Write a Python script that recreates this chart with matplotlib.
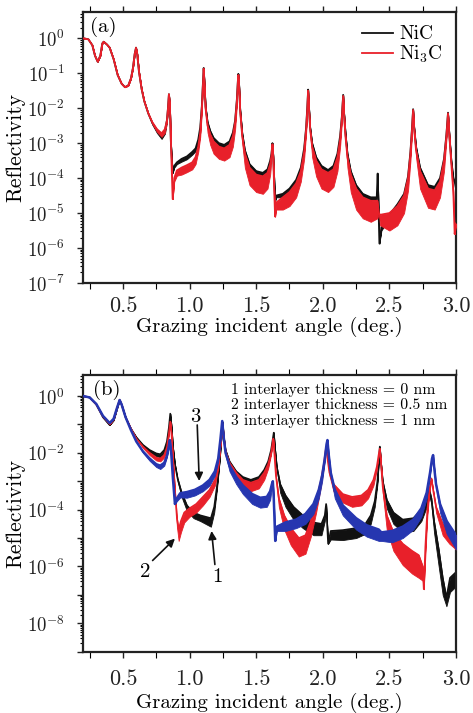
import numpy as np
import matplotlib
matplotlib.use("Agg")
import matplotlib.pyplot as plt
from matplotlib.ticker import LogLocator, MultipleLocator, FuncFormatter, NullFormatter

plt.rcParams['font.family'] = ['serif']
plt.rcParams['font.serif'] = ['cmr10', 'DejaVu Serif']
plt.rcParams['mathtext.fontset'] = 'cm'
plt.rcParams['axes.unicode_minus'] = False
plt.rcParams['axes.formatter.use_mathtext'] = True

# ---------------- panel (a): angle, log10(reflectivity), fringe depth (decades)
xa_red = [0.20, 0.24, 0.27, 0.29, 0.31, 0.33, 0.345, 0.355, 0.38, 0.40,
          0.43, 0.46, 0.49, 0.515, 0.54, 0.56, 0.575, 0.588, 0.598, 0.607,
          0.62, 0.64, 0.66, 0.69, 0.72, 0.755, 0.79, 0.815, 0.83, 0.838,
          0.845, 0.852, 0.86, 0.873, 0.885, 0.905, 0.94, 0.98, 1.02, 1.045,
          1.065, 1.08, 1.092, 1.10, 1.106, 1.112, 1.12, 1.135, 1.155, 1.18,
          1.22, 1.26, 1.30, 1.325, 1.342, 1.355, 1.362, 1.366, 1.372, 1.38,
          1.395, 1.415, 1.45, 1.50, 1.55, 1.585, 1.605, 1.615, 1.622, 1.628,
          1.635, 1.642, 1.65, 1.70, 1.75, 1.80, 1.835, 1.86, 1.875, 1.884,
          1.89, 1.896, 1.905, 1.92, 1.95, 1.99, 2.04, 2.08, 2.11, 2.13,
          2.143, 2.153, 2.16, 2.17, 2.185, 2.21, 2.25, 2.30, 2.36, 2.41,
          2.42, 2.43, 2.50, 2.56, 2.61, 2.64, 2.658, 2.67, 2.678, 2.686,
          2.70, 2.73, 2.79, 2.84, 2.88, 2.91, 2.928, 2.94, 2.95, 2.965,
          2.98, 2.99, 3.00]
ya_red = [0.00, -0.03, -0.20, -0.50, -0.67, -0.50, -0.15, -0.10, -0.18, -0.27,
          -0.60, -1.05, -1.30, -1.40, -1.35, -1.15, -0.85, -0.45, -0.27, -0.45,
          -0.95, -1.45, -1.80, -2.15, -2.40, -2.60, -2.72, -2.60, -2.35, -2.00,
          -1.60, -1.90, -3.00, -4.60, -4.00, -3.78, -3.70, -3.63, -3.55, -3.40,
          -3.10, -2.70, -2.00, -1.35, -0.87, -1.35, -2.00, -2.50, -2.75, -2.95,
          -3.10, -3.15, -3.05, -2.80, -2.40, -1.80, -1.30, -1.05, -1.40, -2.10,
          -2.80, -3.30, -3.70, -3.90, -3.95, -3.85, -3.60, -3.35, -3.03, -3.40,
          -4.30, -5.10, -4.70, -4.55, -4.40, -4.15, -3.80, -3.25, -2.60, -2.00,
          -1.50, -2.00, -2.60, -3.10, -3.50, -3.75, -3.85, -3.75, -3.40, -2.90,
          -2.30, -1.65, -2.20, -2.80, -3.40, -3.90, -4.30, -4.55, -4.65, -4.65,
          -5.00, -5.05, -5.00, -4.80, -4.50, -4.00, -3.30, -2.60, -2.05, -2.60,
          -3.20, -3.80, -4.30, -4.35, -4.10, -3.50, -2.80, -2.15, -2.80, -3.60,
          -4.40, -5.60, -5.30]
da_red = [0, 0, 0, 0, 0, 0, 0, 0, 0, 0,
          0, 0, 0, 0, 0, 0, 0, 0, 0, 0,
          0, 0, 0, 0, 0.05, 0.08, 0.10, 0.10, 0.05, 0,
          0, 0, 0, 0, 0.10, 0.15, 0.20, 0.20, 0.20, 0.20,
          0.15, 0.12, 0.10, 0, 0, 0, 0.10, 0.20, 0.30, 0.35,
          0.35, 0.35, 0.35, 0.30, 0.20, 0.10, 0, 0, 0, 0.10,
          0.20, 0.40, 0.50, 0.50, 0.50, 0.45, 0.30, 0.10, 0, 0,
          0, 0, 0.20, 0.35, 0.40, 0.40, 0.30, 0.20, 0.10, 0,
          0, 0, 0.10, 0.30, 0.45, 0.55, 0.55, 0.50, 0.40, 0.20,
          0.10, 0, 0, 0.10, 0.30, 0.50, 0.60, 0.60, 0.60, 0.50,
          0, 0.30, 0.50, 0.55, 0.50, 0.35, 0.20, 0.10, 0, 0,
          0.20, 0.50, 0.55, 0.55, 0.45, 0.30, 0.10, 0, 0, 0.20,
          0.30, 0, 0]

xa_blk = [0.20, 0.24, 0.27, 0.29, 0.31, 0.33, 0.345, 0.355, 0.38, 0.40,
          0.43, 0.46, 0.49, 0.515, 0.54, 0.56, 0.575, 0.588, 0.598, 0.607,
          0.62, 0.64, 0.66, 0.69, 0.72, 0.755, 0.79, 0.815, 0.83, 0.838,
          0.845, 0.852, 0.86, 0.873, 0.885, 0.905, 0.94, 0.98, 1.02, 1.045,
          1.065, 1.08, 1.092, 1.10, 1.106, 1.112, 1.12, 1.135, 1.155, 1.18,
          1.22, 1.26, 1.30, 1.325, 1.342, 1.355, 1.362, 1.366, 1.372, 1.38,
          1.395, 1.415, 1.45, 1.50, 1.55, 1.585, 1.605, 1.615, 1.622, 1.628,
          1.635, 1.642, 1.65, 1.70, 1.75, 1.80, 1.835, 1.86, 1.875, 1.884,
          1.89, 1.896, 1.905, 1.92, 1.95, 1.99, 2.04, 2.08, 2.11, 2.13,
          2.143, 2.153, 2.16, 2.17, 2.185, 2.21, 2.25, 2.30, 2.36, 2.405,
          2.412, 2.425, 2.44, 2.50, 2.56, 2.61, 2.64, 2.658, 2.67, 2.678,
          2.686, 2.70, 2.73, 2.79, 2.84, 2.88, 2.91, 2.928, 2.94, 2.95,
          2.965, 2.98, 2.99, 3.00]
ya_blk = [0.00, -0.03, -0.20, -0.50, -0.67, -0.50, -0.15, -0.10, -0.18, -0.27,
          -0.60, -1.05, -1.30, -1.40, -1.35, -1.15, -0.85, -0.45, -0.27, -0.45,
          -0.95, -1.45, -1.80, -2.15, -2.42, -2.63, -2.78, -2.65, -2.35, -2.00,
          -1.60, -1.90, -3.00, -3.85, -3.65, -3.55, -3.45, -3.38, -3.25, -3.15,
          -2.90, -2.55, -1.95, -1.30, -0.85, -1.30, -1.95, -2.40, -2.65, -2.85,
          -3.00, -3.05, -2.95, -2.70, -2.35, -1.75, -1.25, -1.02, -1.35, -2.05,
          -2.70, -3.20, -3.60, -3.80, -3.85, -3.75, -3.50, -3.30, -3.00, -3.35,
          -4.00, -4.65, -4.50, -4.45, -4.30, -4.05, -3.70, -3.15, -2.55, -1.95,
          -1.47, -1.95, -2.55, -3.00, -3.40, -3.65, -3.77, -3.65, -3.30, -2.80,
          -2.25, -1.62, -2.15, -2.70, -3.30, -3.80, -4.20, -4.45, -4.55, -4.55,
          -3.87, -5.87, -5.40, -5.05, -4.75, -4.45, -3.95, -3.25, -2.55, -2.03,
          -2.55, -3.10, -3.70, -4.20, -4.25, -4.00, -3.45, -2.75, -2.13, -2.75,
          -3.50, -4.00, -4.10, -4.30]
da_blk = [0, 0, 0, 0, 0, 0, 0, 0, 0, 0,
          0, 0, 0, 0, 0, 0, 0, 0, 0, 0,
          0, 0, 0, 0, 0.05, 0.08, 0.10, 0.08, 0.05, 0,
          0, 0, 0, 0, 0.05, 0.05, 0.08, 0.08, 0.08, 0.08,
          0.05, 0.05, 0, 0, 0, 0, 0, 0.05, 0.08, 0.10,
          0.10, 0.10, 0.10, 0.08, 0.05, 0, 0, 0, 0, 0,
          0.05, 0.10, 0.10, 0.10, 0.10, 0.10, 0.08, 0, 0, 0,
          0, 0, 0.05, 0.10, 0.10, 0.10, 0.08, 0.05, 0, 0,
          0, 0, 0, 0.05, 0.10, 0.10, 0.10, 0.10, 0.08, 0.05,
          0, 0, 0, 0, 0.05, 0.10, 0.10, 0.10, 0.10, 0.05,
          0, 0, 0.10, 0.10, 0.10, 0.10, 0.08, 0.05, 0, 0,
          0, 0.05, 0.10, 0.10, 0.10, 0.10, 0.08, 0, 0, 0,
          0.05, 0.10, 0, 0]

# ---------------- panel (b): 1 = 0 nm, 2 = 0.5 nm, 3 = 1 nm interlayer
xb1 = [0.20, 0.25, 0.30, 0.35, 0.40, 0.43, 0.455, 0.475, 0.49, 0.52,
       0.56, 0.60, 0.65, 0.70, 0.75, 0.78, 0.81, 0.83, 0.845, 0.855,
       0.865, 0.875, 0.89, 0.91, 0.94, 0.98, 1.03, 1.08, 1.12, 1.16,
       1.185, 1.205, 1.225, 1.24, 1.248, 1.256, 1.27, 1.30, 1.35, 1.40,
       1.46, 1.52, 1.56, 1.59, 1.612, 1.625, 1.632, 1.64, 1.655, 1.68,
       1.72, 1.78, 1.85, 1.93, 1.99, 2.015, 2.025, 2.04, 2.06, 2.15,
       2.25, 2.32, 2.36, 2.39, 2.41, 2.42, 2.428, 2.436, 2.45, 2.48,
       2.53, 2.60, 2.68, 2.74, 2.78, 2.80, 2.815, 2.835, 2.87, 2.90,
       2.928, 2.955, 3.00]
yb1 = [0.0, -0.05, -0.30, -0.75, -1.02, -0.85, -0.45, -0.14, -0.30, -0.75,
       -1.15, -1.45, -1.72, -1.90, -2.02, -2.05, -1.90, -1.60, -1.10, -0.62,
       -1.10, -1.80, -2.40, -2.90, -3.40, -3.85, -4.10, -4.20, -4.25, -4.30,
       -3.90, -3.20, -2.30, -1.40, -0.92, -1.40, -1.90, -2.30, -2.65, -2.85,
       -2.95, -2.85, -2.60, -2.30, -1.90, -1.50, -1.29, -1.80, -2.50, -3.10,
       -3.50, -3.90, -4.20, -4.45, -4.50, -4.20, -3.80, -5.20, -4.75, -4.72,
       -4.65, -4.50, -4.20, -3.70, -3.00, -2.30, -1.78, -2.30, -3.00, -3.65,
       -4.10, -4.35, -4.30, -4.00, -3.60, -3.30, -3.60, -4.40, -5.40, -6.40,
       -7.10, -6.40, -6.20]
db1 = [0, 0, 0, 0, 0, 0, 0, 0, 0, 0,
       0, 0, 0.05, 0.08, 0.10, 0.10, 0.08, 0.05, 0, 0,
       0, 0, 0, 0.10, 0.15, 0.20, 0.20, 0.20, 0.25, 0.30,
       0.20, 0.10, 0, 0, 0, 0, 0.05, 0.15, 0.25, 0.30,
       0.30, 0.30, 0.25, 0.15, 0.05, 0, 0, 0, 0.10, 0.30,
       0.40, 0.45, 0.45, 0.45, 0.40, 0.20, 0, 0, 0.30, 0.35,
       0.35, 0.35, 0.30, 0.20, 0.10, 0, 0, 0, 0.10, 0.30,
       0.40, 0.45, 0.45, 0.40, 0.30, 0.20, 0.20, 0.40, 0.60, 0.60,
       0.30, 0.50, 0.50]

xb2 = [0.20, 0.25, 0.30, 0.35, 0.40, 0.43, 0.455, 0.475, 0.49, 0.52,
       0.56, 0.60, 0.65, 0.70, 0.75, 0.78, 0.81, 0.83, 0.845, 0.855,
       0.865, 0.875, 0.89, 0.905, 0.918, 0.935, 0.96, 1.00, 1.05, 1.10,
       1.15, 1.19, 1.215, 1.235, 1.248, 1.256, 1.27, 1.30, 1.35, 1.40,
       1.46, 1.52, 1.56, 1.59, 1.612, 1.622, 1.628, 1.636, 1.648, 1.67,
       1.71, 1.76, 1.82, 1.87, 1.91, 1.95, 1.985, 2.008, 2.02, 2.026,
       2.035, 2.05, 2.08, 2.15, 2.22, 2.29, 2.34, 2.38, 2.405, 2.42,
       2.428, 2.436, 2.45, 2.48, 2.53, 2.60, 2.67, 2.72, 2.75, 2.758,
       2.77, 2.785, 2.80, 2.815, 2.828, 2.85, 2.90, 2.95, 3.00]
yb2 = [0.0, -0.05, -0.30, -0.72, -0.98, -0.82, -0.42, -0.14, -0.30, -0.75,
       -1.15, -1.50, -1.78, -2.00, -2.17, -2.20, -2.08, -1.80, -1.30, -0.90,
       -1.40, -2.20, -3.30, -4.30, -4.70, -4.40, -4.10, -3.95, -3.80, -3.55,
       -3.30, -2.95, -2.45, -1.60, -0.98, -1.45, -1.95, -2.35, -2.70, -2.95,
       -3.05, -2.95, -2.70, -2.40, -2.00, -1.70, -1.50, -2.00, -2.80, -3.60,
       -4.20, -4.65, -5.00, -4.90, -4.40, -3.70, -3.00, -2.40, -1.95, -1.80,
       -2.20, -2.70, -3.10, -3.45, -3.55, -3.50, -3.30, -2.95, -2.50, -2.05,
       -1.85, -2.30, -3.20, -4.20, -4.80, -5.20, -5.45, -5.60, -6.00, -6.80,
       -5.30, -4.00, -3.30, -2.90, -3.30, -3.90, -4.50, -4.75, -4.90]
db2 = [0, 0, 0, 0, 0, 0, 0, 0, 0, 0,
       0, 0, 0.05, 0.08, 0.10, 0.10, 0.08, 0.05, 0, 0,
       0, 0, 0.10, 0.30, 0.40, 0.40, 0.35, 0.30, 0.30, 0.30,
       0.25, 0.20, 0.10, 0, 0, 0, 0.05, 0.15, 0.25, 0.30,
       0.30, 0.30, 0.25, 0.15, 0.05, 0, 0, 0, 0.10, 0.30,
       0.50, 0.60, 0.65, 0.65, 0.55, 0.40, 0.20, 0.10, 0, 0,
       0, 0.10, 0.25, 0.30, 0.35, 0.35, 0.30, 0.20, 0.10, 0,
       0, 0, 0.20, 0.50, 0.65, 0.75, 0.80, 0.80, 0.50, 0,
       0.30, 0.20, 0.10, 0, 0, 0.20, 0.40, 0.45, 0.50]

xb3 = [0.20, 0.25, 0.30, 0.35, 0.40, 0.43, 0.455, 0.475, 0.49, 0.52,
       0.56, 0.60, 0.65, 0.70, 0.75, 0.78, 0.81, 0.83, 0.843, 0.852,
       0.862, 0.875, 0.89, 0.905, 0.93, 0.98, 1.04, 1.10, 1.15, 1.19,
       1.215, 1.232, 1.245, 1.255, 1.27, 1.30, 1.35, 1.40, 1.47, 1.53,
       1.58, 1.605, 1.618, 1.625, 1.632, 1.643, 1.655, 1.72, 1.80, 1.87,
       1.93, 1.97, 1.995, 2.015, 2.028, 2.035, 2.043, 2.06, 2.09, 2.15,
       2.25, 2.33, 2.42, 2.44, 2.52, 2.60, 2.68, 2.74, 2.78, 2.805,
       2.82, 2.828, 2.836, 2.85, 2.88, 2.93, 3.00]
yb3 = [0.0, -0.05, -0.28, -0.70, -0.95, -0.80, -0.42, -0.14, -0.30, -0.75,
       -1.20, -1.60, -1.95, -2.20, -2.40, -2.45, -2.35, -2.10, -1.80, -1.55,
       -2.00, -2.90, -3.80, -3.60, -3.42, -3.38, -3.30, -3.15, -2.95, -2.65,
       -2.20, -1.50, -0.88, -1.40, -2.00, -2.45, -2.85, -3.15, -3.45, -3.58,
       -3.55, -3.35, -3.10, -3.00, -3.60, -5.10, -4.60, -4.45, -4.35, -4.15,
       -3.80, -3.30, -2.80, -2.20, -1.70, -1.55, -2.00, -2.70, -3.30, -3.85,
       -4.30, -4.55, -4.70, -4.80, -4.75, -4.60, -4.35, -3.95, -3.40, -2.70,
       -2.20, -2.08, -2.50, -3.10, -3.80, -4.40, -4.90]
db3 = [0, 0, 0, 0, 0, 0, 0, 0, 0, 0,
       0, 0, 0.05, 0.08, 0.10, 0.12, 0.10, 0.05, 0, 0,
       0, 0, 0, 0.10, 0.15, 0.20, 0.20, 0.20, 0.20, 0.15,
       0.10, 0, 0, 0, 0.10, 0.20, 0.25, 0.30, 0.35, 0.35,
       0.35, 0.30, 0.10, 0, 0, 0, 0.15, 0.30, 0.30, 0.35,
       0.35, 0.30, 0.20, 0.10, 0, 0, 0, 0.15, 0.30, 0.35,
       0.40, 0.40, 0.40, 0.30, 0.40, 0.40, 0.35, 0.30, 0.20, 0.10,
       0, 0, 0, 0.10, 0.30, 0.45, 0.50]

legend_a = ['NiC', r'Ni$_3$C']
labels_b = ['1 interlayer thickness = 0 nm',
            '2 interlayer thickness = 0.5 nm',
            '3 interlayer thickness = 1 nm']

RED = '#e8202a'
BLK = '#111111'
BLUE = '#2636b0'

fig = plt.figure(figsize=(4.73, 7.13), dpi=100)
axa = fig.add_axes([83/473, 1-283/713, 373/473, 271/713])
axb = fig.add_axes([83/473, 1-651.7/713, 373/473, 276.7/713])


def draw(ax, x, y, d, color, lw, z):
    x = np.asarray(x); y = np.asarray(y); d = np.asarray(d)
    ax.fill_between(x, 10**(y - d), 10**y, color=color, lw=0.6, ec=color, zorder=z)
    return ax.plot(x, 10**y, color=color, lw=lw, zorder=z + 0.5)[0]


la = draw(axa, xa_blk, ya_blk, da_blk, BLK, 1.3, 2)
lb = draw(axa, xa_red, ya_red, da_red, RED, 1.3, 3)

draw(axb, xb1, yb1, db1, BLK, 1.2, 2)
draw(axb, xb2, yb2, db2, RED, 1.2, 3)
draw(axb, xb3, yb3, db3, BLUE, 1.8, 4)


def even_fmt(v, pos):
    e = int(round(np.log10(v)))
    return r'$10^{%d}$' % e if e % 2 == 0 else ''


for ax, ymin, ymax, xpad, lpad in [(axa, 1e-7, 10**0.75, 6, 0),
                                   (axb, 1e-9, 10**0.74, 8.5, 3)]:
    ax.set_yscale('log')
    ax.set_xlim(0.2, 3.0)
    ax.set_ylim(ymin, ymax)
    ax.xaxis.set_major_locator(MultipleLocator(0.5))
    ax.xaxis.set_minor_locator(MultipleLocator(0.25))
    ax.xaxis.set_major_formatter(FuncFormatter(lambda v, p: '%.1f' % v))
    ax.yaxis.set_major_locator(LogLocator(base=10, numticks=30))
    ax.yaxis.set_minor_locator(LogLocator(base=10, subs=np.arange(2, 10), numticks=30))
    ax.yaxis.set_minor_formatter(NullFormatter())
    ax.tick_params(axis='both', which='major', direction='out', length=4, width=1.0,
                   colors='#222222')
    ax.tick_params(axis='both', which='minor', direction='out', length=2.5, width=0.8)
    ax.tick_params(axis='y', which='both', pad=9, labelsize=13.5)
    ax.tick_params(axis='x', which='both', pad=xpad, top=True, labelsize=16)
    ax.tick_params(axis='x', which='minor', length=4)
    for s in ax.spines.values():
        s.set_linewidth(1.6)
        s.set_color('#222222')
    ax.set_xlabel('Grazing incident angle (deg.)', fontsize=15, labelpad=lpad)
    ax.set_ylabel('Reflectivity', fontsize=15.5, labelpad=1)

axb.yaxis.set_major_formatter(FuncFormatter(even_fmt))

axa.text(0.019, 0.946, '(a)', transform=axa.transAxes, fontsize=15, ha='left', va='center')
axb.text(0.028, 0.946, '(b)', transform=axb.transAxes, fontsize=15, ha='left', va='center')

axa.legend([la, lb], legend_a, loc='upper right', frameon=False, fontsize=14,
           handlelength=1.6, handletextpad=0.3, labelspacing=0.0,
           borderpad=0, borderaxespad=0, bbox_to_anchor=(0.965, 0.95))

for i, t in enumerate(labels_b):
    axb.text(0.397, 0.946 - i * 0.056, t, transform=axb.transAxes,
             fontsize=11.3, ha='left', va='center')

arrow = dict(arrowstyle='-|>', color='#111111', lw=1.2, mutation_scale=12,
             shrinkA=0, shrinkB=0)
axb.annotate('', xy=(1.0725, 10**-2.99), xytext=(1.0575, 10**-1.02), arrowprops=arrow)
axb.text(1.04, 10**-0.73, '3', fontsize=15, ha='center', va='center')
axb.annotate('', xy=(0.89, 10**-5.02), xytext=(0.7225, 10**-5.79), arrowprops=arrow)
axb.text(0.665, 10**-6.2, '2', fontsize=15, ha='center', va='center')
axb.annotate('', xy=(1.165, 10**-4.75), xytext=(1.19, 10**-5.93), arrowprops=arrow)
axb.text(1.2075, 10**-6.38, '1', fontsize=15, ha='center', va='center')

fig.savefig('out.png', dpi=100)
